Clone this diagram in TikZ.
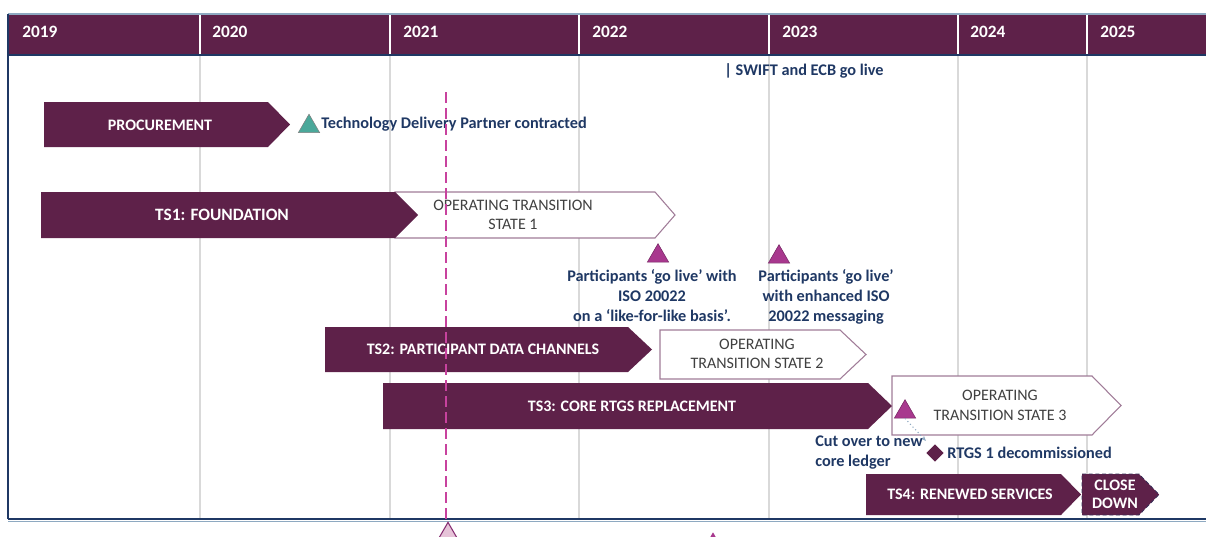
\documentclass[tikz,border=0pt]{standalone}
\usepackage{fontspec}
\setmainfont{Carlito}
\usetikzlibrary{shapes.geometric,arrows.meta}
\definecolor{plum}{HTML}{5E2149}
\definecolor{navy}{HTML}{1F3864}
\definecolor{gridgray}{HTML}{D9D9D9}
\definecolor{mteal}{HTML}{4BA89A}
\definecolor{mag}{HTML}{A8388E}
\definecolor{dashmag}{HTML}{C8429E}
\definecolor{otsline}{HTML}{A07C98}
\definecolor{otstext}{HTML}{404040}
\definecolor{lightblue}{HTML}{8EA9C1}
\definecolor{palepink}{HTML}{E6C3D8}
\tikzset{
  bar/.style={fill=plum},
  otsbox/.style={draw=otsline, fill=white, line width=0.8pt},
  bartext/.style={text=white, font=\bfseries\fontsize{12}{14}\selectfont, align=center, inner sep=0pt},
  otstext/.style={text=otstext, font=\fontsize{12}{14.5}\selectfont, align=center, inner sep=0pt},
  yeartext/.style={text=white, font=\bfseries\fontsize{13}{15}\selectfont, anchor=west, inner sep=0pt},
  note/.style={text=navy, font=\bfseries\fontsize{12.2}{15}\selectfont, inner sep=0pt},
  tri/.style={regular polygon, regular polygon sides=3, minimum size=18.5pt, inner sep=0pt, fill=mag, draw=mag!70!black, line width=0.4pt},
  gridline/.style={draw=gridgray, line width=1.2pt},
}
\begin{document}
\begin{tikzpicture}[x=0.75pt,y=-0.75pt]
\useasboundingbox (0,0) rectangle (1206,536);
\clip (0,0) rectangle (1206,536);
% grid lines
\foreach \x in {200,390,579,769,958,1087} {
  \draw[gridline] (\x,55) -- (\x,519);
}
% header
\fill[plum] (8,14) rectangle (1206,55);
\draw[lightblue, line width=1pt] (8,14) -- (1206,14);
\draw[navy, line width=1.5pt] (8,55) -- (1206,55);
\foreach \x in {200,390,579,769,958,1087} {
  \draw[white, line width=1.2pt] (\x,15) -- (\x,54);
}
\node[yeartext] (y2019) at (22,32) {2019};
\node[yeartext] (y2020) at (212,32) {2020};
\node[yeartext] (y2021) at (403,32) {2021};
\node[yeartext] (y2022) at (592,32) {2022};
\node[yeartext] (y2023) at (782,32) {2023};
\node[yeartext] (y2024) at (970,32) {2024};
\node[yeartext] (y2025) at (1100,32) {2025};
% frame
\draw[navy, line width=1.5pt] (8,14) -- (8,519);
\draw[navy, line width=1.5pt] (8,519) -- (1206,519);
\draw[lightblue, line width=0.8pt] (8,521.5) -- (1206,521.5);

% SWIFT
\node[note, anchor=west] (swift) at (724,71) {| SWIFT and ECB go live};

% Procurement
\fill[bar] (44,102) -- (268,102) -- (290,124.5) -- (268,147) -- (44,147) -- cycle;
\node[bartext] (proc) at (160,125) {PROCUREMENT};
\node[tri, fill=mteal, draw=gray] (tdp) at (309,126.5) {};
\node[note, anchor=west] (tdptext) at (321,124) {Technology Delivery Partner contracted};

% TS1
\draw[otsbox] (395,192) -- (655,192) -- (675,215) -- (655,238) -- (395,238) -- cycle;
\fill[bar] (41,192) -- (395,192) -- (418,215) -- (395,238) -- (41,238) -- cycle;
\node[bartext, font=\bfseries\fontsize{13}{15}\selectfont] (ts1) at (222,215) {TS1: FOUNDATION};
\node[otstext] (ots1) at (513,215) {OPERATING TRANSITION\\STATE 1};

% milestones after TS1
\node[tri] (m1) at (658,256) {};
\node[note, align=center, anchor=north] (m1text) at (652,269) {Participants ‘go live’ with\\ISO 20022\\on a ‘like-for-like basis’.};
\node[tri] (m2) at (779,257) {};
\node[note, align=center, anchor=north] (m2text) at (826,269) {Participants ‘go live’\\with enhanced ISO\\20022 messaging};

% TS2
\fill[bar] (325,327) -- (628,327) -- (652,349.5) -- (628,372) -- (325,372) -- cycle;
\node[bartext] (ts2) at (483,349.5) {TS2: PARTICIPANT DATA CHANNELS};
\draw[otsbox] (660,330) -- (840,330) -- (866,354.5) -- (840,379) -- (660,379) -- cycle;
\node[otstext] (ots2) at (757,354) {OPERATING\\TRANSITION STATE 2};

% TS3
\draw[otsbox] (892,376) -- (1092,376) -- (1121,405.5) -- (1092,435) -- (892,435) -- cycle;
\fill[bar] (383,383) -- (868,383) -- (892,406) -- (868,429) -- (383,429) -- cycle;
\node[bartext] (ts3) at (632,406) {TS3: CORE RTGS REPLACEMENT};
\node[otstext] (ots3) at (1000,405.5) {OPERATING\\TRANSITION STATE 3};
\node[tri] (cut) at (905,412) {};
\coordinate (cutend) at (926,441);
\draw[lightblue, dotted, line width=0.8pt, -{Stealth[length=4pt,width=3pt]}] (cut.south) -- (cutend);
\node[note, align=left, anchor=west] (cuttext) at (815,452.5) {Cut over to new\\core ledger};
\node[diamond, fill=plum, minimum size=13pt, inner sep=0pt] (rtgs) at (935,453) {};
\node[note, anchor=west] (rtgstext) at (947,453) {RTGS 1 decommissioned};

% TS4
\fill[bar] (866,474) -- (1061,474) -- (1081,494.5) -- (1061,515) -- (866,515) -- cycle;
\node[bartext] (ts4) at (970,494.5) {TS4: RENEWED SERVICES};
\draw[bar, draw=navy!60!plum, densely dashed, line width=0.6pt] (1082,474) -- (1139,474) -- (1159,494.5) -- (1139,515) -- (1082,515) -- cycle;
\node[bartext, font=\bfseries\fontsize{12}{13.5}\selectfont] (close) at (1115,494) {CLOSE\\DOWN};

% today line
\draw[dashmag, dashed, line width=1.2pt, dash pattern=on 8pt off 4pt] (446,92) -- (446,519);
\node[regular polygon, regular polygon sides=3, minimum size=22pt, inner sep=0pt, fill=palepink, draw=mag!80!black, line width=0.8pt] (today) at (448,537) {};
\node[regular polygon, regular polygon sides=3, minimum size=16pt, inner sep=0pt, fill=mag] (later) at (713,543) {};
\end{tikzpicture}
\end{document}
